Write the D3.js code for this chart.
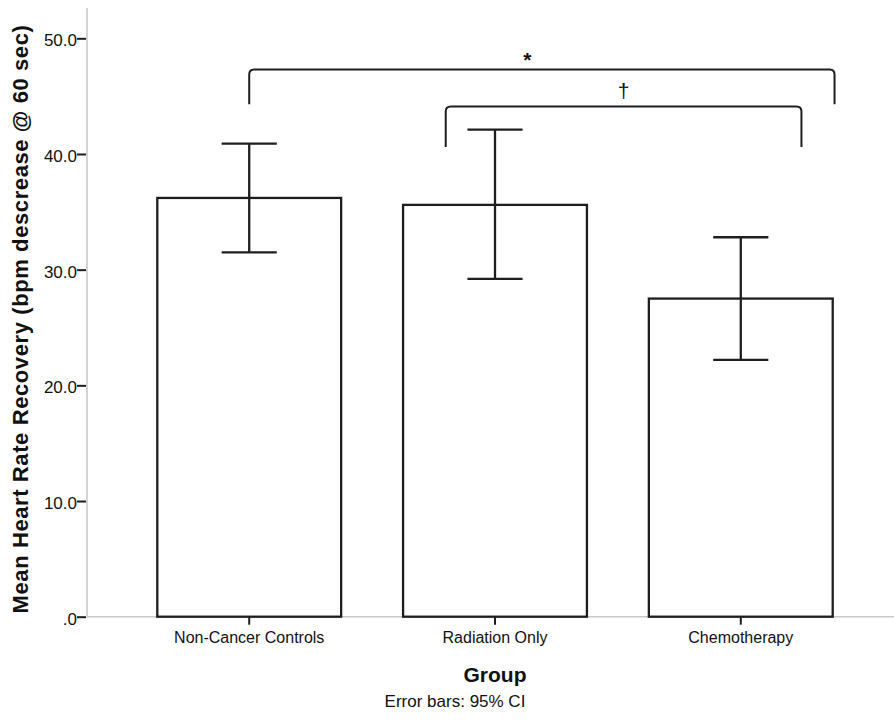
<!DOCTYPE html>
<html>
<head>
<meta charset="utf-8">
<script src="https://cdn.jsdelivr.net/npm/d3@7"></script>
<style>
  html, body { margin: 0; padding: 0; background: #fff; }
  svg { display: block; font-family: "Liberation Sans", Arial, sans-serif; }
  .axis-line { stroke: #c9c9c9; stroke-width: 1.6; fill: none; }
  .tick-mark { stroke: #1e1e1e; stroke-width: 2; }
  .bar { fill: #fff; stroke: #1e1e1e; stroke-width: 2.3; }
  .err { stroke: #1e1e1e; stroke-width: 2.3; fill: none; }
  .bracket { stroke: #1e1e1e; stroke-width: 2; fill: none; }
  text { fill: #111; }
</style>
</head>
<body>
<div id="chart"></div>
<script>
const groups = ["Non-Cancer Controls", "Radiation Only", "Chemotherapy"];
const means = [36.2, 35.6, 27.5];
const ciLow = [31.5, 29.2, 22.2];
const ciHigh = [40.9, 42.1, 32.8];
const yTicks = [0, 10, 20, 30, 40, 50];

// significance brackets (levels in data units)
const bracketFrom = [0, 1];
const bracketTo = [2, 2];
const bracketTop = [47.3, 44.1];
const bracketEnd = [44.3, 40.6];
const bracketLabels = ["*", "\u2020"];

const width = 894;
const height = 727;
const margin = { top: 8, left: 87 };
const axisRight = width;

const x = d3
  .scaleBand()
  .domain(groups)
  .range([margin.left, 903])
  .paddingInner(0.252)
  .paddingOuter(0.286);

const y = d3.scaleLinear().domain([0, 50]).range([616.7, 38.3]);

// where the bracket legs sit, as a fraction of the bandwidth from the bar centre
const legOffsets = [
  [0, 0.51],
  [-0.268, 0.33],
];
const labelShift = [-0.05, 0]; // label x as fraction of half the bracket span

const svg = d3
  .select("#chart")
  .append("svg")
  .attr("width", width)
  .attr("height", height)
  .attr("viewBox", [0, 0, width, height]);

// axes lines
svg
  .append("line")
  .attr("class", "axis-line")
  .attr("x1", margin.left)
  .attr("x2", margin.left)
  .attr("y1", margin.top)
  .attr("y2", y(0));

svg
  .append("line")
  .attr("class", "axis-line")
  .attr("x1", margin.left)
  .attr("x2", axisRight)
  .attr("y1", y(0))
  .attr("y2", y(0));

// y axis
const gY = svg.append("g").attr("transform", `translate(${margin.left - 1},0)`);
gY.call(
  d3
    .axisLeft(y)
    .tickValues(yTicks)
    .tickSize(9)
    .tickPadding(0)
    .tickFormat((d) => (d === 0 ? ".0" : d3.format(".1f")(d)))
)
  .call((g) => g.select(".domain").remove())
  .call((g) => g.selectAll(".tick line").attr("class", "tick-mark"))
  .call((g) =>
    g
      .selectAll(".tick text")
      .attr("font-size", 17)
      .attr("fill", "#111")
      .attr("dy", "0.45em")
  );

// x axis
const gX = svg.append("g").attr("transform", `translate(0,${y(0)})`);
gX.call(d3.axisBottom(x).tickSize(8).tickPadding(7))
  .call((g) => g.select(".domain").remove())
  .call((g) => g.selectAll(".tick line").attr("class", "tick-mark"))
  .call((g) =>
    g
      .selectAll(".tick text")
      .attr("font-size", 16)
      .attr("fill", "#111")
  );

// bars
const bw = x.bandwidth();
svg
  .append("g")
  .selectAll("rect")
  .data(groups)
  .join("rect")
  .attr("class", "bar")
  .attr("x", (d) => x(d))
  .attr("width", bw)
  .attr("y", (d, i) => y(means[i]))
  .attr("height", (d, i) => y(0) - y(means[i]));

// error bars
const capHalf = bw * 0.15;
const err = svg
  .append("g")
  .selectAll("g")
  .data(groups)
  .join("g")
  .attr("transform", (d) => `translate(${x(d) + bw / 2},0)`);
err
  .append("line")
  .attr("class", "err")
  .attr("y1", (d, i) => y(ciLow[i]))
  .attr("y2", (d, i) => y(ciHigh[i]));
err
  .append("line")
  .attr("class", "err")
  .attr("x1", -capHalf)
  .attr("x2", capHalf)
  .attr("y1", (d, i) => y(ciHigh[i]))
  .attr("y2", (d, i) => y(ciHigh[i]));
err
  .append("line")
  .attr("class", "err")
  .attr("x1", -capHalf)
  .attr("x2", capHalf)
  .attr("y1", (d, i) => y(ciLow[i]))
  .attr("y2", (d, i) => y(ciLow[i]));

// brackets
const r = 5;
bracketFrom.forEach((f, i) => {
  const x0 = x(groups[f]) + bw / 2 + legOffsets[i][0] * bw;
  const x1 = x(groups[bracketTo[i]]) + bw / 2 + legOffsets[i][1] * bw;
  const yt = y(bracketTop[i]);
  const ye = y(bracketEnd[i]);
  const p = d3.path();
  p.moveTo(x0, ye);
  p.lineTo(x0, yt + r);
  p.quadraticCurveTo(x0, yt, x0 + r, yt);
  p.lineTo(x1 - r, yt);
  p.quadraticCurveTo(x1, yt, x1, yt + r);
  p.lineTo(x1, ye);
  svg.append("path").attr("class", "bracket").attr("d", p.toString());

  const mid = (x0 + x1) / 2 + labelShift[i] * (x1 - x0) * 0.5;
  svg
    .append("text")
    .attr("x", mid)
    .attr("y", yt - (i === 0 ? 3 : 9))
    .attr("text-anchor", "middle")
    .attr("font-size", 21)
    .attr("font-weight", i === 0 ? "bold" : "normal")
    .text(bracketLabels[i]);
});

// axis titles
svg
  .append("text")
  .attr("transform", `translate(28,319) rotate(-90)`)
  .attr("text-anchor", "middle")
  .attr("font-size", 22)
  .attr("font-weight", "bold")
  .attr("letter-spacing", 0.6)
  .text("Mean Heart Rate Recovery (bpm descrease @ 60 sec)");

svg
  .append("text")
  .attr("x", 495)
  .attr("y", 682)
  .attr("text-anchor", "middle")
  .attr("font-size", 21)
  .attr("font-weight", "bold")
  .text("Group");

svg
  .append("text")
  .attr("x", 455)
  .attr("y", 707)
  .attr("text-anchor", "middle")
  .attr("font-size", 17)
  .text("Error bars: 95% CI");
</script>
</body>
</html>
